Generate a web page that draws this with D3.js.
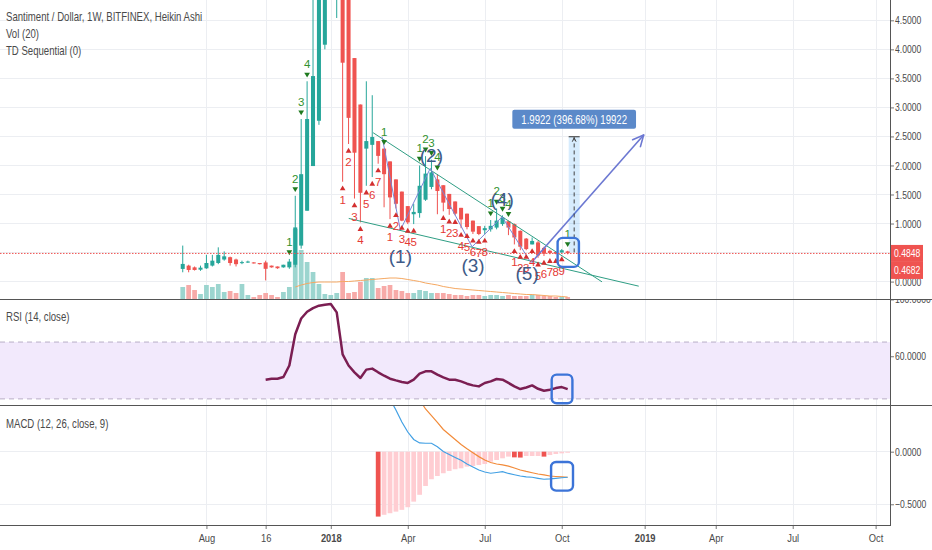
<!DOCTYPE html>
<html>
<head>
<meta charset="utf-8">
<title>Santiment / Dollar, 1W, BITFINEX, Heikin Ashi</title>
<script src="https://cdn.jsdelivr.net/npm/d3@7/dist/d3.min.js"></script>
<style>
  body { margin: 0; background: #fff; }
  svg { display: block; }
  text { font-family: "Liberation Sans", Arial, sans-serif; }
  .axis text { font-size: 11px; fill: #4a4a4a; }
  .axis line { stroke: #777; }
  .axis path { display: none; }
  .legend { font-size: 12px; fill: #4a4a4a; }
</style>
</head>
<body>
<div id="chart"></div>
<script>
// weekly Heikin Ashi bars, first bar = week of 10 Jul 2017
var firstBar = new Date(2017, 6, 10);

var haOpen = [0.218, 0.275, 0.245, 0.205, 0.228, 0.275, 0.32, 0.38, 0.42, 0.38,
  0.33, 0.34, 0.33, 0.32, 0.33, 0.275, 0.26, 0.245, 0.245, 0.29,
  0.62, 1.22, 1.99, 2.77, 4.08, 5.04, 5.77, 5.99, 4.88, 3.85,
  3.05, 2.29, 2.355, 2.42, 2.29, 2.07, 1.76, 1.55, 1.30, 1.16,
  1.18, 1.41, 1.63, 1.76, 1.66, 1.51, 1.38, 1.27, 1.17, 1.05,
  0.955, 0.885, 0.90, 0.93, 0.99, 1.04, 0.99, 0.875, 0.74, 0.64,
  0.675, 0.58, 0.53, 0.51, 0.50, 0.52];
var haHigh = [0.62, 0.29, 0.26, 0.275, 0.46, 0.46, 0.59, 0.52, 0.43, 0.395,
  0.36, 0.36, 0.335, 0.32, 0.36, 0.275, 0.26, 0.29, 0.39, 1.478,
  2.80, 3.45, 5.0, 5.5, 6.5, 7.0, 7.3, 6.0, 4.88, 3.85,
  3.05, 3.45, 3.21, 2.42, 2.29, 2.07, 1.76, 1.55, 1.30, 1.34,
  2.0, 2.16, 2.10, 1.85, 1.66, 1.51, 1.38, 1.27, 1.17, 1.05,
  0.955, 0.96, 1.06, 1.26, 1.14, 1.05, 1.0, 0.88, 0.75, 0.76,
  0.70, 0.60, 0.55, 0.52, 0.56, 0.53];
var haLow = [0.16, 0.16, 0.19, 0.185, 0.22, 0.26, 0.30, 0.36, 0.275, 0.26,
  0.30, 0.32, 0.31, 0.295, 0.02, 0.24, 0.22, 0.24, 0.22, 0.245,
  0.567, 1.22, 1.99, 2.70, 4.0, 4.95, 4.54, 1.72, 2.37, 1.43,
  1.02, 1.65, 1.80, 2.03, 1.28, 1.076, 1.26, 1.04, 0.99, 0.99,
  1.10, 1.39, 1.59, 1.16, 1.21, 1.15, 1.14, 0.92, 0.90, 0.82,
  0.80, 0.82, 0.86, 0.90, 0.96, 0.80, 0.64, 0.54, 0.54, 0.64,
  0.41, 0.44, 0.47, 0.47, 0.50, 0.47];
var haClose = [0.304, 0.20, 0.20, 0.24, 0.32, 0.36, 0.46, 0.435, 0.32, 0.30,
  0.335, 0.345, 0.315, 0.30, 0.22, 0.245, 0.23, 0.29, 0.344, 0.933,
  1.85, 2.80, 3.54, 5.25, 6.0, 6.5, 6.21, 3.77, 2.82, 2.22,
  1.53, 2.42, 2.49, 2.165, 1.85, 1.45, 1.34, 1.05, 1.02, 1.20,
  1.65, 1.86, 1.88, 1.56, 1.36, 1.25, 1.17, 1.07, 0.94, 0.86,
  0.82, 0.92, 0.96, 1.05, 1.10, 0.93, 0.76, 0.60, 0.56, 0.70,
  0.45, 0.48, 0.49, 0.48, 0.54, 0.49];
var volume = [12, 14, 9, 5, 14, 12, 15, 7, 8, 6,
  15, 4, 2, 4, 6, 4, 2, 7, 12, 70,
  49, 37, 27, 15, 5, 4, 6, 27, 6, 7,
  17, 21, 21, 11, 13, 14, 9, 8, 6, 6,
  9, 8, 6, 6, 6, 5, 4, 4, 3, 4,
  4, 3, 4, 4, 3, 4, 3, 3, 3, 4,
  4, 3, 3, 2, 2, 2];

// Vol (20) average, starts on bar 19
var volMAStart = 19;
var volMA = [12, 14, 15.5, 16.5, 17, 17, 17, 17, 17.5, 17.5,
  18, 18.5, 19, 19.5, 20, 20.5, 21, 21, 20.5, 19.5,
  18.5, 17.5, 16, 15, 14, 12.5, 11.5, 10.5, 10, 9.5,
  9, 8.5, 8, 7.5, 7, 6.5, 6, 5.5, 5, 4.5,
  4.5, 4, 3.5, 3, 3, 2.5, 2];

// RSI (14, close), starts on bar 14
var rsiStart = 14;
var rsiValues = [43.5, 44.2, 44.2, 45.4, 53.5, 75.5, 86.6, 91.3, 93.9, 95.6,
  96.3, 96.8, 90.9, 61.3, 53.5, 48.7, 44.7, 50.6, 51.3, 48.7,
  46.3, 44.2, 43.0, 41.9, 41.2, 43.5, 47.8, 49.4, 49.4, 47.1,
  45.1, 43.5, 43.5, 42.3, 40.7, 39.5, 38.8, 41.2, 42.3, 44.0,
  43.5, 41.2, 38.8, 36.9, 38.0, 39.5, 37.1, 35.7, 36.4, 37.6,
  38.3, 36.9];

// MACD (12, 26, close, 9), starts on bar 33
var macdStart = 33;
var macdLine = [0.66, 0.58, 0.50, 0.396, 0.282, 0.187, 0.116, 0.083, 0.080, 0.080,
  0.047, 0.002, -0.027, -0.055, -0.082, -0.117, -0.145, -0.174, -0.193, -0.205,
  -0.198, -0.19, -0.207, -0.219, -0.231, -0.24, -0.243, -0.253, -0.262, -0.259,
  -0.253, -0.248, -0.243];
var signalLine = [1.277, 1.18, 1.085, 0.966, 0.835, 0.715, 0.59, 0.493, 0.406, 0.342,
  0.278, 0.211, 0.163, 0.116, 0.068, 0.028, -0.010, -0.047, -0.079, -0.103,
  -0.117, -0.126, -0.138, -0.155, -0.174, -0.188, -0.2, -0.212, -0.221, -0.231,
  -0.236, -0.240, -0.243];
var macdHist = [-0.617, -0.60, -0.585, -0.57, -0.553, -0.528, -0.475, -0.41, -0.326, -0.262,
  -0.231, -0.205, -0.183, -0.167, -0.158, -0.142, -0.136, -0.127, -0.117, -0.095,
  -0.079, -0.063, -0.047, -0.054, -0.056, -0.041, -0.041, -0.041, -0.047, -0.032,
  -0.022, -0.016, -0.010];

// TD Sequential counts [bar, count]
var tdSell = [[18, 1], [19, 2], [20, 3], [21, 4], [34, 1], [40, 1], [41, 2], [42, 3], [43, 4],
  [52, 1], [53, 2], [54, 3], [55, 4], [65, 1]];
var tdBuy = [[27, 1], [28, 2], [29, 3], [30, 4], [31, 5], [32, 6], [33, 7],
  [35, 1], [36, 2], [37, 3], [38, 4], [39, 5],
  [44, 1], [45, 2], [46, 3], [47, 4], [48, 5], [49, 6], [50, 7], [51, 8],
  [56, 1], [57, 2], [58, 3], [59, 4], [60, 5], [61, 6], [62, 7], [63, 8], [64, 9]];

// drawings, in [bar, price]
var upperTrend = [[32.15, 2.564], [70.8, -0.005]];
var lowerTrend = [[28.03, 1.088], [77.0, -0.079]];
var wavePoints = [[33.66, 2.495], [36.75, 0.886], [41.8, 1.95], [48.86, 0.598], [53.93, 1.116], [58.7, 0.34]];
var waveNames = ["(1)", "(2)", "(3)", "(4)", "(5)"];
var waveLabelPos = [[36.75, 0.426], [41.99, 2.18], [49.03, 0.283], [53.93, 1.416], [58.15, 0.14]];
var targetArrow = [[58.9, 0.33], [77.83, 2.524]];
var measureBars = [65.17, 67.03];
var measurePrices = [0.5022, 2.4944];
var measureText = "1.9922 (396.68%) 19922";
var boxMain = [63.3, 66.9, 0.253, 0.753];
var boxRsi = [62.3, 65.8, 26.9, 47.05];
var boxMacd = [62.2, 65.9, -0.370, -0.098];

var lastPrice = 0.4848;
var haLast = 0.4682;

var priceTicks = [0, 0.5, 1, 1.5, 2, 2.5, 3, 3.5, 4, 4.5];
var rsiTicks = [60, 100];
var rsiBand = [30, 70];
var macdTicks = [-0.5, 0];
var xTickDates = [new Date(2017, 7, 7), new Date(2017, 9, 16), new Date(2018, 0, 1), new Date(2018, 3, 2),
  new Date(2018, 6, 2), new Date(2018, 9, 1), new Date(2019, 0, 7), new Date(2019, 3, 1),
  new Date(2019, 6, 1), new Date(2019, 9, 7)];
var xTickLabels = ["Aug", "16", "2018", "Apr", "Jul", "Oct", "2019", "Apr", "Jul", "Oct"];

// layout
var svgWidth = 932;
var svgHeight = 550;
var plotW = 890;
var mainBottom = 299;
var rsiBottom = 405.7;
var macdBottom = 525;
var narrow = 0.8; // the chart font is a narrow one

var upColor = "#26a69a";
var downColor = "#ef5350";

var svg = d3.select("#chart").append("svg")
  .attr("width", svgWidth)
  .attr("height", svgHeight);

// squeeze text horizontally, keeping its anchor point
function squeeze(sel, f) {
  sel.each(function() {
    var t = d3.select(this);
    var x0 = +t.attr("x") || 0;
    t.attr("x", x0 / f).attr("transform", `scale(${f},1)`);
  });
}

function barDate(i) {
  return new Date(firstBar.getTime() + i * 7 * 864e5);
}

var jan2018 = new Date(2018, 0, 1);
var x = d3.scaleTime()
  .domain([d3.timeDay.offset(jan2018, -391), d3.timeDay.offset(jan2018, 661)])
  .range([0, plotW]);
function xb(i) { return x(barDate(i)); }
var step = xb(1) - xb(0);

var yMain = d3.scaleLinear().domain([-0.3, 4.85]).range([mainBottom, 0]);
var yVol = d3.scaleLinear().domain([0, 100]).range([mainBottom, mainBottom - 100]);
var yRsi = d3.scaleLinear().domain([25.2, 100.3]).range([rsiBottom, mainBottom]);
var yMacd = d3.scaleLinear().domain([-0.697, 0.437]).range([macdBottom, rsiBottom]);

// clip paths for each pane
var defs = svg.append("defs");
function addClip(id, x0, y0, w, h) {
  defs.append("clipPath").attr("id", id)
    .append("rect").attr("x", x0).attr("y", y0).attr("width", w).attr("height", h);
}
addClip("clipMain", 0, 0, plotW, mainBottom);
addClip("clipRsi", 0, mainBottom, plotW, rsiBottom - mainBottom);
addClip("clipMacd", 0, rsiBottom, plotW, macdBottom - rsiBottom);
addClip("clipMainAxis", plotW, 0, svgWidth - plotW, mainBottom);
addClip("clipRsiAxis", plotW, mainBottom, svgWidth - plotW, rsiBottom - mainBottom);
addClip("clipMacdAxis", plotW, rsiBottom, svgWidth - plotW, macdBottom - rsiBottom);

// grid
var grid = svg.append("g")
  .attr("stroke", "#eceef2")
  .attr("shape-rendering", "crispEdges");
grid.selectAll(".vgrid").data(xTickDates).enter().append("line")
  .attr("x1", d => Math.round(x(d)) + 0.5).attr("x2", d => Math.round(x(d)) + 0.5)
  .attr("y1", 0).attr("y2", macdBottom);
grid.selectAll(".pgrid").data(priceTicks).enter().append("line")
  .attr("x1", 0).attr("x2", plotW)
  .attr("y1", d => yMain(d)).attr("y2", d => yMain(d));
grid.selectAll(".rgrid").data(rsiTicks).enter().append("line")
  .attr("x1", 0).attr("x2", plotW)
  .attr("y1", d => yRsi(d)).attr("y2", d => yRsi(d));
grid.selectAll(".mgrid").data(macdTicks).enter().append("line")
  .attr("x1", 0).attr("x2", plotW)
  .attr("y1", d => yMacd(d)).attr("y2", d => yMacd(d));

// ---------- main pane ----------
var mainG = svg.append("g").attr("clip-path", "url(#clipMain)");

var bars = haOpen.map(function(o, i) {
  return { i: i, open: o, high: haHigh[i], low: haLow[i], close: haClose[i], vol: volume[i] };
});

// volume
mainG.append("g").selectAll("rect").data(bars).enter().append("rect")
  .attr("x", d => xb(d.i) - step * 0.4)
  .attr("width", step * 0.8)
  .attr("y", d => yVol(d.vol))
  .attr("height", d => yVol(0) - yVol(d.vol))
  .attr("fill", d => d.close >= d.open ? "#9cd5cf" : "#f7aaa8");

var volLine = d3.line()
  .x((d, k) => xb(volMAStart + k))
  .y(d => yVol(d));
mainG.append("path").datum(volMA)
  .attr("d", volLine)
  .attr("fill", "none")
  .attr("stroke", "#f5a862")
  .attr("stroke-width", 1);

// candles
var candles = mainG.append("g").selectAll("g").data(bars).enter().append("g");
candles.append("line")
  .attr("x1", d => xb(d.i)).attr("x2", d => xb(d.i))
  .attr("y1", d => yMain(d.high)).attr("y2", d => yMain(d.low))
  .attr("stroke", d => d.close >= d.open ? upColor : downColor)
  .attr("stroke-width", 1);
candles.append("rect")
  .attr("x", d => xb(d.i) - step * 0.34)
  .attr("width", step * 0.68)
  .attr("y", d => yMain(Math.max(d.open, d.close)))
  .attr("height", d => Math.max(1, Math.abs(yMain(d.open) - yMain(d.close))))
  .attr("fill", d => d.close >= d.open ? upColor : downColor);

// trend lines
var trendLine = d3.line().x(d => xb(d[0])).y(d => yMain(d[1]));
[upperTrend, lowerTrend].forEach(function(t) {
  mainG.append("path").datum(t)
    .attr("d", trendLine)
    .attr("fill", "none")
    .attr("stroke", "#2f9e84")
    .attr("stroke-width", 1);
});

// wave path
mainG.append("path").datum(wavePoints)
  .attr("d", trendLine)
  .attr("fill", "none")
  .attr("stroke", "#7885d6")
  .attr("stroke-width", 1);

// target arrow
function arrowHead(g, x1, y1, x2, y2, len, color, width) {
  var a = Math.atan2(y2 - y1, x2 - x1);
  [-0.45, 0.45].forEach(function(da) {
    g.append("line")
      .attr("x1", x2).attr("y1", y2)
      .attr("x2", x2 - len * Math.cos(a + da))
      .attr("y2", y2 - len * Math.sin(a + da))
      .attr("stroke", color)
      .attr("stroke-width", width)
      .attr("stroke-linecap", "round");
  });
}
var ax1 = xb(targetArrow[0][0]), ay1 = yMain(targetArrow[0][1]);
var ax2 = xb(targetArrow[1][0]), ay2 = yMain(targetArrow[1][1]);
mainG.append("line")
  .attr("x1", ax1).attr("y1", ay1).attr("x2", ax2).attr("y2", ay2)
  .attr("stroke", "#6c78d2")
  .attr("stroke-width", 1.6);
arrowHead(mainG, ax1, ay1, ax2, ay2, 12, "#6c78d2", 1.6);

// TD sequential numbers
var tdG = mainG.append("g").attr("font-size", "11.5px").attr("text-anchor", "middle");
var tri = d3.symbol().type(d3.symbolTriangle).size(14);
tdSell.forEach(function(d) {
  var cx = xb(d[0]), top = yMain(haHigh[d[0]]);
  tdG.append("path").attr("d", tri)
    .attr("transform", `translate(${cx},${top - 7}) rotate(180)`)
    .attr("fill", "#1f7a1f");
  tdG.append("text").attr("x", cx).attr("y", top - 13)
    .attr("fill", "#32922f").text(d[1]);
});
tdBuy.forEach(function(d) {
  var cx = xb(d[0]), bot = yMain(haLow[d[0]]);
  tdG.append("path").attr("d", tri)
    .attr("transform", `translate(${cx},${bot + 7})`)
    .attr("fill", "#d32f2f");
  tdG.append("text").attr("x", cx).attr("y", bot + 22)
    .attr("fill", "#e53935").text(d[1]);
});

// Elliott wave labels
mainG.append("g").selectAll("text").data(waveLabelPos).enter().append("text")
  .attr("x", d => xb(d[0]))
  .attr("y", d => yMain(d[1]))
  .attr("dy", "0.35em")
  .attr("text-anchor", "middle")
  .attr("font-family", "'Open Sans', sans-serif")
  .attr("font-weight", 300)
  .attr("font-size", "19px")
  .attr("fill", "#3e5a88")
  .text((d, k) => waveNames[k]);

// measurement
var mx0 = xb(measureBars[0]), mx1 = xb(measureBars[1]);
var myTop = yMain(measurePrices[1]), myBot = yMain(measurePrices[0]);
var mcx = (mx0 + mx1) / 2;
mainG.append("rect")
  .attr("x", mx0).attr("width", mx1 - mx0)
  .attr("y", myTop).attr("height", myBot - myTop)
  .attr("fill", "rgba(33,150,243,0.18)");
mainG.append("line")
  .attr("x1", mx0).attr("x2", mx1).attr("y1", myTop).attr("y2", myTop)
  .attr("stroke", "#333").attr("stroke-width", 1);
mainG.append("line")
  .attr("x1", mcx).attr("x2", mcx).attr("y1", myBot).attr("y2", myTop + 1)
  .attr("stroke", "#444").attr("stroke-width", 1)
  .attr("stroke-dasharray", "4,3");
arrowHead(mainG, mcx, myBot, mcx, myTop + 1, 4, "#444", 1);

var mLabel = mainG.append("g");
var mText = mLabel.append("text")
  .attr("x", mcx).attr("y", myTop - 13)
  .attr("text-anchor", "middle")
  .attr("font-size", "12px")
  .attr("fill", "#fff")
  .text(measureText);
var tw = mText.node().getComputedTextLength() * narrow;
squeeze(mText, narrow);
mLabel.insert("rect", "text")
  .attr("x", mcx - tw / 2 - 9).attr("width", tw + 18)
  .attr("y", myTop - 27).attr("height", 19)
  .attr("rx", 2)
  .attr("fill", "#5b89c9");

// ---------- RSI pane ----------
var rsiG = svg.append("g").attr("clip-path", "url(#clipRsi)");
rsiG.append("rect")
  .attr("x", 0).attr("width", plotW)
  .attr("y", yRsi(rsiBand[1])).attr("height", yRsi(rsiBand[0]) - yRsi(rsiBand[1]))
  .attr("fill", "#f2e9fc");
rsiG.selectAll(".band").data(rsiBand).enter().append("line")
  .attr("x1", 0).attr("x2", plotW)
  .attr("y1", d => yRsi(d)).attr("y2", d => yRsi(d))
  .attr("stroke", "#b8aec6")
  .attr("stroke-dasharray", "5,4");
rsiG.append("path").datum(rsiValues)
  .attr("d", d3.line().x((d, k) => xb(rsiStart + k)).y(d => yRsi(d)))
  .attr("fill", "none")
  .attr("stroke", "#7b1e52")
  .attr("stroke-width", 2.5)
  .attr("stroke-linejoin", "round");

// ---------- MACD pane ----------
var macdG = svg.append("g").attr("clip-path", "url(#clipMacd)");
macdG.append("g").selectAll("rect").data(macdHist).enter().append("rect")
  .attr("x", (d, k) => xb(macdStart + k) - step * 0.4)
  .attr("width", step * 0.8)
  .attr("y", d => yMacd(Math.max(0, d)))
  .attr("height", d => Math.abs(yMacd(d) - yMacd(0)))
  .attr("fill", (d, k) => (k === 0 || d < macdHist[k - 1]) ? "#ef5350" : "#ffcdd2");
var macdPath = d3.line().x((d, k) => xb(macdStart + k)).y(d => yMacd(d));
macdG.append("path").datum(signalLine)
  .attr("d", macdPath)
  .attr("fill", "none")
  .attr("stroke", "#f28b3a")
  .attr("stroke-width", 1.2);
macdG.append("path").datum(macdLine)
  .attr("d", macdPath)
  .attr("fill", "none")
  .attr("stroke", "#42a0e4")
  .attr("stroke-width", 1.2);

// highlight boxes
function hiBox(g, b, yScale) {
  g.append("rect")
    .attr("x", xb(b[0])).attr("width", xb(b[1]) - xb(b[0]))
    .attr("y", yScale(b[3])).attr("height", yScale(b[2]) - yScale(b[3]))
    .attr("rx", 5)
    .attr("fill", "none")
    .attr("stroke", "#3c74d8")
    .attr("stroke-width", 2.4);
}
hiBox(svg, boxMain, yMain);
hiBox(svg, boxRsi, yRsi);
hiBox(svg, boxMacd, yMacd);

// last price line
svg.append("line")
  .attr("x1", 0).attr("x2", plotW)
  .attr("y1", yMain(lastPrice)).attr("y2", yMain(lastPrice))
  .attr("stroke", "#ef5350")
  .attr("stroke-width", 1)
  .attr("stroke-dasharray", "1.5,1.5");

// ---------- axes ----------
function rightAxis(scale, ticks, clipId) {
  var g = svg.append("g").attr("clip-path", `url(#${clipId})`)
    .append("g")
    .attr("class", "axis")
    .attr("transform", `translate(${plotW},0)`)
    .call(d3.axisRight(scale).tickValues(ticks).tickFormat(d3.format(".4f")).tickSize(4).tickPadding(1));
  squeeze(g.selectAll("text"), 0.78);
}
rightAxis(yMain, priceTicks, "clipMainAxis");
rightAxis(yRsi, rsiTicks, "clipRsiAxis");
rightAxis(yMacd, macdTicks, "clipMacdAxis");

var xAxis = svg.append("g")
  .attr("class", "axis")
  .attr("transform", `translate(0,${macdBottom})`)
  .call(d3.axisBottom(x).tickValues(xTickDates).tickFormat((d, k) => xTickLabels[k]).tickSize(4).tickPadding(5));
xAxis.selectAll("text")
  .attr("font-size", "11.5px")
  .attr("font-weight", (d, k) => /^\d{4}$/.test(xTickLabels[k]) ? "bold" : "normal");
squeeze(xAxis.selectAll("text"), 0.85);

// price labels on the axis
[[lastPrice, 0], [haLast, 1]].forEach(function(p) {
  var cy = yMain(lastPrice) + p[1] * 17;
  svg.append("rect")
    .attr("x", plotW).attr("width", 33)
    .attr("y", cy - 8.5).attr("height", 17)
    .attr("fill", "#ef5350");
  var t = svg.append("text")
    .attr("x", plotW + 4).attr("y", cy)
    .attr("dy", "0.35em")
    .attr("font-size", "11px")
    .attr("fill", "#fff")
    .text(d3.format(".4f")(p[0]));
  squeeze(t, 0.78);
});

// frame lines
var frame = svg.append("g").attr("stroke", "#555").attr("shape-rendering", "crispEdges");
frame.append("line").attr("x1", plotW + 0.5).attr("x2", plotW + 0.5).attr("y1", 0).attr("y2", macdBottom);
frame.append("line").attr("x1", 0).attr("x2", svgWidth).attr("y1", mainBottom).attr("y2", mainBottom);
frame.append("line").attr("x1", 0).attr("x2", svgWidth).attr("y1", rsiBottom).attr("y2", rsiBottom);
frame.append("line").attr("x1", 0).attr("x2", plotW + 0.5).attr("y1", macdBottom).attr("y2", macdBottom);

// legends
var legend = svg.append("g").attr("class", "legend");
legend.append("text").attr("x", 6).attr("y", 21).text("Santiment / Dollar, 1W, BITFINEX, Heikin Ashi");
legend.append("text").attr("x", 6).attr("y", 38).text("Vol (20)");
legend.append("text").attr("x", 6).attr("y", 55).text("TD Sequential (0)");
legend.append("text").attr("x", 6).attr("y", 321).text("RSI (14, close)");
legend.append("text").attr("x", 6).attr("y", 428).text("MACD (12, 26, close, 9)");
squeeze(legend.selectAll("text"), narrow);
</script>
</body>
</html>
